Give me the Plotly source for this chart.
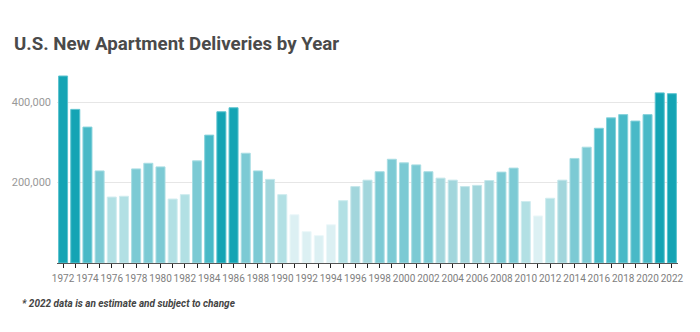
import plotly.graph_objects as go

years = list(range(1972, 2023))
deliveries = [465000, 382000, 338000, 229000, 164000, 166000, 234000, 248000, 239000, 159000,
              170000, 254000, 318000, 376000, 386000, 273000, 229000, 208000, 170000, 120000,
              78000, 68000, 95000, 155000, 190000, 206000, 227000, 258000, 249000, 244000,
              227000, 211000, 206000, 190000, 193000, 205000, 226000, 236000, 153000, 117000,
              161000, 206000, 260000, 288000, 335000, 361000, 369000, 353000, 369000, 423000,
              421000]
tick_labels = [str(y) if (y - 1972) % 2 == 0 else "" for y in years]

def color_for(v):
    if v >= 375000:
        return "#14a4b4"
    if v >= 300000:
        return "#48b9c7"
    if v >= 215000:
        return "#7ccad4"
    if v >= 180000:
        return "#a2d6dc"
    if v >= 140000:
        return "#b2e0e4"
    return "#dcf0f3"

def line_for(v):
    c = color_for(v)
    return {"#14a4b4": "#5cc3cf", "#48b9c7": "#86d2db", "#7ccad4": "#a8dde3",
            "#a2d6dc": "#c4e6ea", "#b2e0e4": "#cfecef", "#dcf0f3": "#ecf7f9"}[c]

fig = go.Figure(go.Bar(
    x=[str(y) for y in years],
    y=deliveries,
    marker=dict(color=[color_for(v) for v in deliveries],
                line=dict(color=[line_for(v) for v in deliveries], width=1)),
    hovertemplate="%{x}: %{y:,}<extra></extra>",
))

fig.update_layout(
    width=700, height=332,
    margin=dict(l=52, r=22, t=74, b=69),
    paper_bgcolor="white", plot_bgcolor="white",
    bargap=0.26,
    showlegend=False,
    font=dict(family="Roboto, sans-serif"),
    title=dict(text="<b>U.S. New Apartment Deliveries by Year</b>",
               x=0.02, xanchor="left", y=0.87, yanchor="middle",
               font=dict(size=18.7, color="#4a4a4a", family="Roboto, sans-serif")),
    annotations=[dict(text="<b><i>* 2022 data is an estimate and subject to change</i></b>",
                      xref="paper", yref="paper", x=-0.0595, y=-0.215,
                      xanchor="left", yanchor="middle", showarrow=False,
                      font=dict(size=10, color="#444444", family="Roboto, sans-serif"))],
)

fig.update_xaxes(
    type="category",
    tickmode="array", tickvals=[str(y) for y in years], ticktext=tick_labels,
    tickangle=0,
    ticks="outside", ticklen=4, tickcolor="#222222", tickwidth=1,
    ticklabelstandoff=2,
    showline=True, linecolor="#555555", linewidth=1,
    showgrid=False,
    tickfont=dict(size=10, color="#808080", family="Roboto, sans-serif"),
)
fig.update_yaxes(
    range=[0, 470000],
    tickvals=[200000, 400000], ticktext=["200,000", "400,000"],
    showgrid=True, gridcolor="#e6e6e6", gridwidth=1,
    zeroline=False, showline=False, ticks="",
    ticklabelstandoff=5,
    tickfont=dict(size=11, color="#999999"),
)

fig.write_html("out.html")
